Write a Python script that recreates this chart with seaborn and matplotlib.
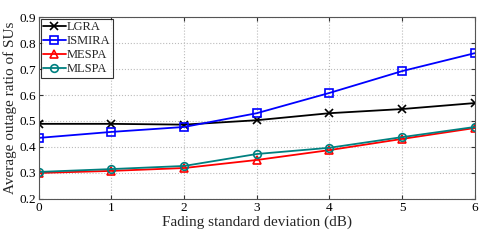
import matplotlib
matplotlib.use("Agg")
import matplotlib.pyplot as plt
import seaborn as sns

sigma = [0, 1, 2, 3, 4, 5, 6]
lgra = [0.489, 0.489, 0.486, 0.503, 0.530, 0.546, 0.569]
ismira = [0.435, 0.458, 0.477, 0.530, 0.608, 0.692, 0.761]
mespa = [0.300, 0.308, 0.319, 0.350, 0.388, 0.431, 0.473]
mlspa = [0.304, 0.315, 0.327, 0.373, 0.397, 0.438, 0.477]

names = ['LGRA', 'ISMIRA', 'MESPA', 'MLSPA']
series = [lgra, ismira, mespa, mlspa]
colors = ['black', 'blue', 'red', '#008080']
markers = ['x', 's', '^', 'o']

sns.set_style("white")
plt.rcParams['font.family'] = ['Liberation Serif', 'DejaVu Serif']
plt.rcParams['mathtext.fontset'] = 'stix'

fig = plt.figure(figsize=(4.85, 2.4), dpi=100)
ax = fig.add_axes([0.08, 0.171, 0.899, 0.758])

for name, vals, c, m in zip(names, series, colors, markers):
    sns.lineplot(x=sigma, y=vals, color=c, marker=m, label=name, ax=ax,
                 linewidth=1.3, markersize=5.5, markerfacecolor='none',
                 markeredgecolor=c, markeredgewidth=1.2)

ax.set_xlim(0, 6)
ax.set_ylim(0.2, 0.9)
ax.set_xticks(sigma)
ax.set_yticks([0.2, 0.3, 0.4, 0.5, 0.6, 0.7, 0.8, 0.9])
ax.set_yticklabels(['0.2', '0.3', '0.4', '0.5', '0.6', '0.7', '0.8', '0.9'])
ax.grid(True, linestyle=':', color='#bbbbbb', linewidth=0.8)
ax.tick_params(labelsize=9.5, direction='in', length=3, pad=2,
               bottom=True, left=True, top=True, right=True, colors='#333333')
for t in ax.get_xticklabels() + ax.get_yticklabels():
    t.set_color('black')
for s in ax.spines.values():
    s.set_color('#555555')
    s.set_linewidth(0.8)

ax.set_xlabel('Fading standard deviation (dB)', fontsize=11, labelpad=1)
ax.set_ylabel('Average outage ratio of SUs', fontsize=11, labelpad=2)

leg = ax.legend(loc='upper left', fontsize=9, frameon=True,
                fancybox=False, borderpad=0.2, labelspacing=0.15,
                handlelength=1.8, handletextpad=0.1, borderaxespad=0.15)
leg.get_frame().set_edgecolor('black')
leg.get_frame().set_linewidth(0.8)

fig.savefig('out.png', dpi=100)
